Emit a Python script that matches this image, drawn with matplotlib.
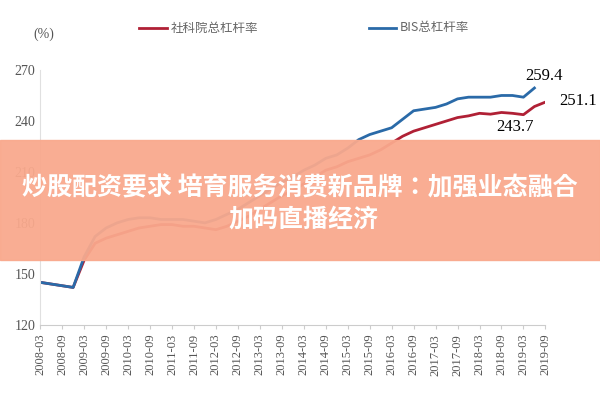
import matplotlib.pyplot as plt
from matplotlib.patches import Rectangle

# quarterly, 2008-03 .. 2019-09
cass = [145, 144, 143, 142, 158, 168, 171, 173, 175, 177, 178, 179,
        179, 178, 178, 177, 176, 178, 181, 184, 188, 192, 196, 199,
        203, 207, 211, 213, 216, 218, 220, 223, 227, 231, 234, 236,
        238, 240, 242, 243, 244.5, 244, 245, 244.5, 243.7, 248.5, 251.1]
bis = [145, 144, 143, 142, 160, 172, 177, 180, 182, 183, 183, 182,
       182, 182, 181, 180, 182, 185, 188, 192, 196, 200, 204, 207,
       211, 214, 218, 220, 224, 229, 232, 234, 236, 241, 246, 247,
       248, 250, 253, 254, 254, 254, 255, 255, 254, 259.4]
years = range(2008, 2020)
ticks = [f"{y}-{m}" for y in years for m in ("03", "09")]

serif = "Liberation Serif"
cjk = ["Noto Sans CJK SC", "Noto Sans CJK JP", "Noto Sans CJK TC", "DejaVu Sans"]
fig = plt.figure(figsize=(6, 4), dpi=100)
ax = fig.add_axes([0.067, 0.188, 0.842, 0.637])
ax.plot(range(len(cass)), cass, color="#b02035", lw=2)
ax.plot(range(len(bis)), bis, color="#2a6aa8", lw=2)
ax.set_xlim(0, 46)
ax.set_ylim(120, 270)
ax.set_yticks([120, 150, 180, 210, 240, 270])
ax.set_xticks(range(0, 47, 2))
ax.set_xticklabels(ticks, rotation=90, fontfamily=serif, fontsize=9, color="#555")
for lab in ax.get_yticklabels():
    lab.set_fontfamily(serif)
ax.tick_params(axis="y", length=0, labelsize=10, colors="#555")
ax.tick_params(axis="x", length=3, color="#ccc")
for s in ["top", "right"]:
    ax.spines[s].set_visible(False)
ax.spines["left"].set_color("#e0e0e0")
ax.spines["bottom"].set_color("#ccc")

ax.annotate("259.4", (45, 259.4), xytext=(44.2, 264), fontfamily=serif, fontsize=12)
ax.annotate("251.1", (46, 251.1), xytext=(47.3, 249.5), fontfamily=serif,
            fontsize=12, annotation_clip=False)
ax.text(41.5, 234, "243.7", fontfamily=serif, fontsize=12)

fig.text(0.055, 0.905, "(%)", fontfamily=serif, fontsize=10, color="#555")
fig.add_artist(plt.Line2D([0.232, 0.278], [0.93, 0.93], color="#b02035", lw=2))
fig.text(0.285, 0.93, "社科院总杠杆率", fontfamily=cjk, fontsize=9,
         color="#666", va="center")
fig.add_artist(plt.Line2D([0.615, 0.66], [0.93, 0.93], color="#2a6aa8", lw=2))
fig.text(0.667, 0.93, "BIS总杠杆率", fontfamily=cjk, fontsize=9,
         color="#666", va="center")

# overlay banner
fig.add_artist(Rectangle((0, 0.35), 1, 0.3, transform=fig.transFigure,
                         color="#f9a98d", alpha=0.95, zorder=5))
fig.text(0.5, 0.53, "炒股配资要求 培育服务消费新品牌：加强业态融合",
         fontfamily=cjk, fontsize=18, fontweight="bold",
         color="white", ha="center", va="center", zorder=6)
fig.text(0.38, 0.452, "加码直播经济", fontfamily=cjk, fontsize=18,
         fontweight="bold", color="white", va="center", zorder=6)

fig.savefig("out.png")
